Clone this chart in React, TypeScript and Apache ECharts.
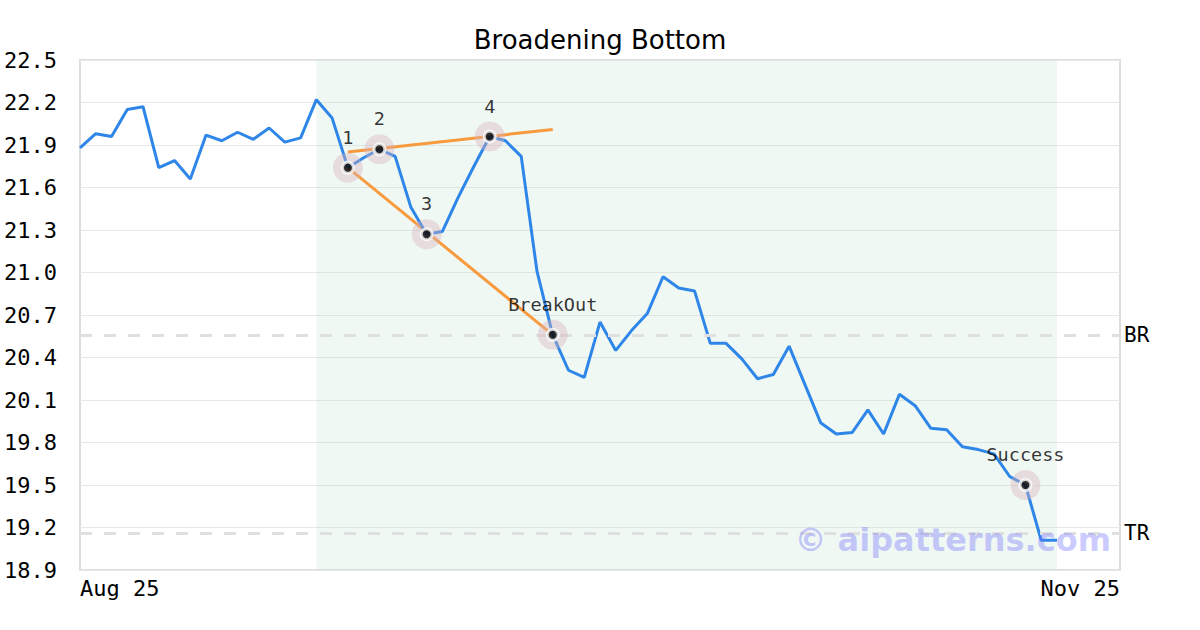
import React, { useEffect, useRef } from "react";
import * as echarts from "echarts";

const categories: string[] = (() => {
  const out: string[] = [];
  const d = new Date(Date.UTC(2025, 7, 25));
  const months = ["Jan", "Feb", "Mar", "Apr", "May", "Jun", "Jul", "Aug", "Sep", "Oct", "Nov", "Dec"];
  while (out.length < 67) {
    const wd = d.getUTCDay();
    const isHoliday = d.getUTCMonth() === 8 && d.getUTCDate() === 1;
    if (wd !== 0 && wd !== 6 && !isHoliday) {
      out.push(months[d.getUTCMonth()] + " " + String(d.getUTCDate()));
    }
    d.setUTCDate(d.getUTCDate() + 1);
  }
  return out;
})();

const firstLabel = "Aug 25";
const lastLabel = "Nov 25";

const prices: (number | null)[] = [
  21.88, 21.98, 21.96, 22.15, 22.17, 21.74, 21.79, 21.66, 21.97, 21.93,
  21.99, 21.94, 22.02, 21.92, 21.95, 22.22, 22.09, 21.74, 21.81, 21.87,
  21.82, 21.46, 21.27, 21.29, 21.53, 21.75, 21.96, 21.93, 21.82, 21.01,
  20.56, 20.31, 20.26, 20.65, 20.45, 20.59, 20.71, 20.97, 20.89, 20.87,
  20.50, 20.50, 20.39, 20.25, 20.28, 20.48, 20.21, 19.94, 19.86, 19.87,
  20.03, 19.86, 20.14, 20.06, 19.90, 19.89, 19.77, 19.75, 19.72, 19.56,
  19.50, 19.11, 19.11, null, null, null, null,
];

const patternIdx = [17, 19, 22, 26, 30, 60];
const patternVal = [21.74, 21.87, 21.27, 21.96, 20.56, 19.5];
const patternNames = ["1", "2", "3", "4", "BreakOut", "Success"];

const upperLine: [number, number][] = [[17, 21.85], [30, 22.01]];
const lowerLine: [number, number][] = [[17, 21.74], [30, 20.56]];

const zoneStart = 15;
const zoneEnd = 62;

const levelNames = ["BR", "TR"];
const levelValues = [20.56, 19.16];

const yMin = 18.9;
const yMax = 22.5;
const yStep = 0.3;

const MONO = "DejaVu Sans Mono";

export default function App() {
  const ref = useRef<HTMLDivElement>(null);
  useEffect(() => {
    if (!ref.current) return;
    const chart = echarts.init(ref.current, null, { renderer: "svg" });
    const points = patternIdx.map((i, k) => ({
      value: [i, patternVal[k]],
      name: patternNames[k],
    }));
    chart.setOption({
      animation: false,
      backgroundColor: "#fff",
      title: {
        text: "Broadening Bottom",
        left: "center",
        top: 22,
        textStyle: { fontFamily: "DejaVu Sans", fontWeight: "normal", fontSize: 26, color: "#000" },
      },
      grid: {
        left: 80,
        right: 80,
        top: 60,
        bottom: 60,
        show: true,
        borderColor: "#dddddd",
        borderWidth: 2,
        backgroundColor: "transparent",
      },
      xAxis: {
        type: "category",
        data: categories,
        boundaryGap: false,
        axisLine: { show: false },
        axisTick: { show: false },
        splitLine: { show: false },
        axisLabel: {
          interval: (i: number) => i === 0 || i === categories.length - 1,
          formatter: (_v: string, i: number) =>
            i === 0 ? firstLabel : i === categories.length - 1 ? lastLabel : "",
          showMinLabel: true,
          showMaxLabel: true,
          alignMinLabel: "left",
          alignMaxLabel: "right",
          color: "#000",
          fontFamily: MONO,
          fontSize: 22,
          margin: 7,
        },
      },
      yAxis: {
        type: "value",
        min: yMin,
        max: yMax,
        interval: yStep,
        axisLine: { show: false },
        axisTick: { show: false },
        splitLine: { lineStyle: { color: "#e8e8e8", width: 1 } },
        axisLabel: {
          formatter: (v: number) => v.toFixed(1),
          color: "#000",
          fontFamily: MONO,
          fontSize: 22,
          margin: 23,
        },
      },
      graphic: [
        {
          type: "text",
          right: 89,
          top: 524,
          z: 100,
          style: {
            text: "© aipatterns.com",
            font: "bold 32px 'DejaVu Sans'",
            fill: "rgba(105,105,255,0.35)",
          },
        },
      ],
      series: [
        {
          type: "line",
          data: upperLine,
          showSymbol: false,
          symbol: "none",
          lineStyle: { color: "#f89a3e", width: 3 },
          z: 3,
        },
        {
          type: "line",
          data: lowerLine,
          showSymbol: false,
          symbol: "none",
          lineStyle: { color: "#f89a3e", width: 3 },
          z: 3,
        },
        {
          type: "line",
          data: prices,
          showSymbol: false,
          symbol: "none",
          connectNulls: false,
          lineStyle: { color: "#2e86e8", width: 3 },
          z: 4,
          markArea: {
            silent: true,
            itemStyle: { color: "rgba(180,222,202,0.2)" },
            data: [[{ xAxis: categories[zoneStart] }, { xAxis: categories[zoneEnd] }]],
          },
          markLine: {
            silent: true,
            symbol: "none",
            lineStyle: { color: "#e0e0e0", width: 3, type: [12, 12] },
            label: {
              show: true,
              position: "end",
              formatter: "{b}",
              color: "#000",
              fontFamily: MONO,
              fontSize: 21,
              distance: 4,
            },
            data: levelNames.map((n, k) => ({ name: n, yAxis: levelValues[k] })),
          },
        },
        {
          type: "scatter",
          data: points,
          symbolSize: 30,
          itemStyle: { color: "rgba(215,178,188,0.5)" },
          z: 5,
          silent: true,
        },
        {
          type: "scatter",
          data: points,
          symbolSize: 11,
          itemStyle: { color: "#000", borderColor: "#fff", borderWidth: 3 },
          z: 6,
          silent: true,
          label: {
            show: true,
            position: "top",
            distance: 14,
            formatter: "{b}",
            color: "#000",
            fontFamily: MONO,
            fontSize: 18.5,
          },
        },
      ],
    });
    return () => chart.dispose();
  }, []);
  return (
    <div
      ref={ref}
      style={{ position: "absolute", left: 0, top: 0, width: 1200, height: 630 }}
    />
  );
}
